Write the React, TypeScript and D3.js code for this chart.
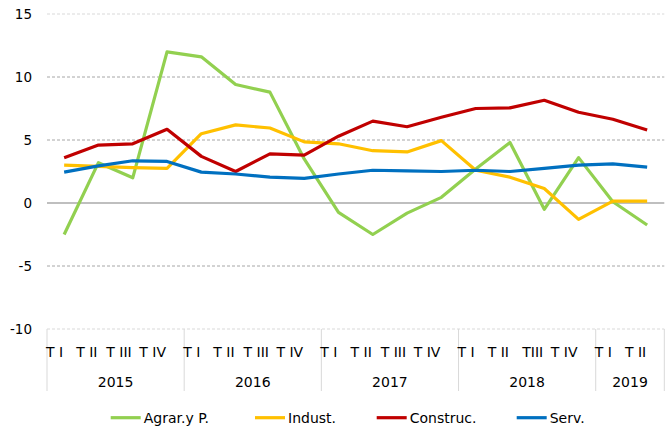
import React from "react";
import * as d3 from "d3";

const quarters = [
  "T I", "T II", "T III", "T IV",
  "T I", "T II", "T III", "T IV",
  "T I", "T II", "T III", "T IV",
  "T I", "T II", "TIII", "T IV",
  "T I", "T II",
];
const years = ["2015", "2016", "2017", "2018", "2019"];
const yearCounts = [4, 4, 4, 4, 2];

const agrar = [-2.5, 3.2, 2.0, 12.0, 11.6, 9.4, 8.8, 3.5, -0.75, -2.5, -0.8, 0.45, 2.7, 4.8, -0.5, 3.6, 0.1, -1.75];
const indust = [3.0, 2.9, 2.8, 2.75, 5.5, 6.2, 5.95, 4.85, 4.7, 4.15, 4.05, 4.95, 2.6, 2.05, 1.15, -1.3, 0.15, 0.15];
const construc = [3.6, 4.6, 4.7, 5.85, 3.7, 2.5, 3.9, 3.8, 5.3, 6.5, 6.05, 6.8, 7.5, 7.55, 8.15, 7.2, 6.65, 5.8];
const serv = [2.45, 2.95, 3.35, 3.3, 2.45, 2.3, 2.05, 1.95, 2.3, 2.6, 2.55, 2.5, 2.6, 2.5, 2.75, 3.0, 3.1, 2.85];

const seriesNames = ["Agrar.y P.", "Indust.", "Construc.", "Serv."];
const seriesColors = ["#92D050", "#FFC000", "#C00000", "#0070C0"];
const seriesData = [agrar, indust, construc, serv];

const yTicks = [15, 10, 5, 0, -5, -10];

const FONT = "'DejaVu Sans', Verdana, sans-serif";

export default function App() {
  const left = 47;
  const right = 664.3;
  const x = d3
    .scaleBand<number>()
    .domain(d3.range(quarters.length))
    .range([left, right])
    .padding(0);
  const bw = x.bandwidth();
  const cx = (i: number) => (x(i) as number) + bw / 2;
  const y = d3.scaleLinear().domain([-10, 15]).range([329, 14]);

  const line = d3
    .line<number>()
    .x((_, i) => cx(i))
    .y((d) => y(d));

  const yearStarts: number[] = [];
  let acc = 0;
  yearCounts.forEach((c) => {
    yearStarts.push(acc);
    acc += c;
  });

  const legendX = [110.7, 255, 376.7, 516.7];

  return (
    <svg
      width={670}
      height={428}
      style={{ position: "absolute", left: 0, top: 0, display: "block", background: "#fff" }}
    >
      {yTicks.map((t) => {
        const isZero = t === 0;
        const light = t === 15 || t === -10;
        return (
          <line
            key={t}
            x1={left}
            x2={right}
            y1={y(t)}
            y2={y(t)}
            stroke={isZero ? "#808080" : light ? "#D9D9D9" : "#A6A6A6"}
            strokeWidth={isZero ? 1.2 : 1}
            strokeDasharray={isZero ? undefined : "3,2"}
          />
        );
      })}
      {yTicks.map((t) => (
        <text
          key={"l" + t}
          x={32}
          y={y(t)}
          dy="0.36em"
          textAnchor="end"
          fontFamily={FONT}
          fontSize={13.5}
          fill="#000"
        >
          {t}
        </text>
      ))}
      {yearStarts.concat([quarters.length]).map((s, i) => {
        const xx = s < quarters.length ? (x(s) as number) : right;
        return (
          <line key={"sep" + i} x1={xx} x2={xx} y1={y(-10)} y2={391} stroke="#D9D9D9" strokeWidth={1} />
        );
      })}
      {quarters.map((q, i) => (
        <text
          key={"q" + i}
          x={cx(i) - 1}
          y={356.5}
          textAnchor="end"
          fontFamily={FONT}
          fontSize={14}
          fill="#000"
        >
          {q}
        </text>
      ))}
      {years.map((yr, i) => {
        const s = yearStarts[i];
        const e = s + yearCounts[i];
        const x0 = x(s) as number;
        const x1 = e < quarters.length ? (x(e) as number) : right;
        return (
          <text
            key={"y" + yr}
            x={(x0 + x1) / 2}
            y={386.5}
            textAnchor="middle"
            fontFamily={FONT}
            fontSize={14}
            fill="#000"
          >
            {yr}
          </text>
        );
      })}
      {seriesData.map((d, k) => (
        <path
          key={"s" + k}
          d={line(d) || ""}
          fill="none"
          stroke={seriesColors[k]}
          strokeWidth={3.2}
          strokeLinejoin="round"
        />
      ))}
      {seriesNames.map((n, k) => (
        <g key={"lg" + k}>
          <line
            x1={legendX[k]}
            x2={legendX[k] + 30}
            y1={417.7}
            y2={417.7}
            stroke={seriesColors[k]}
            strokeWidth={3.2}
          />
          <text
            x={legendX[k] + 33}
            y={423}
            fontFamily={FONT}
            fontSize={14}
            fill="#000"
          >
            {n}
          </text>
        </g>
      ))}
    </svg>
  );
}
